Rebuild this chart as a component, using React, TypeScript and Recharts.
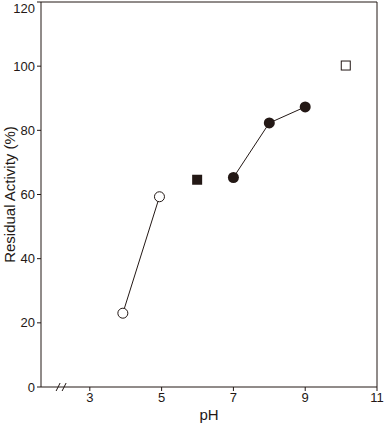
import { ComposedChart, Scatter, XAxis, YAxis, ReferenceDot, ReferenceLine } from "recharts";

const acidBuffer = [
  { ph: 3.92, activity: 23 },
  { ph: 4.94, activity: 59.3 },
];
const midBuffer = [{ ph: 5.99, activity: 64.6 }];
const neutralBuffer = [
  { ph: 7.0, activity: 65.3 },
  { ph: 8.0, activity: 82.3 },
  { ph: 9.0, activity: 87.3 },
];
const alkaliBuffer = [{ ph: 10.13, activity: 100.2 }];

const xTicks = [3, 5, 7, 9, 11];
const yTicks = [0, 20, 40, 60, 80, 100, 120];

const font = "'Liberation Sans', Arial, sans-serif";
const ink = "#231815";

const openCircle = (p: any) => <circle cx={p.cx} cy={p.cy} r={5} fill="#fff" stroke={ink} strokeWidth={1} />;
const fullCircle = (p: any) => <circle cx={p.cx} cy={p.cy} r={5.5} fill={ink} />;
const fullSquare = (p: any) => <rect x={p.cx - 5} y={p.cy - 5} width={10} height={10} fill={ink} />;
const openSquare = (p: any) => (
  <rect x={p.cx - 4.5} y={p.cy - 4.5} width={9} height={9} fill="#fff" stroke={ink} strokeWidth={1} />
);

const axisBreak = (p: any) => (
  <g stroke={ink} strokeWidth={1}>
    <line x1={p.cx - 5} y1={p.cy + 4} x2={p.cx - 1} y2={p.cy - 4} />
    <line x1={p.cx + 1} y1={p.cy + 4} x2={p.cx + 5} y2={p.cy - 4} />
  </g>
);

export default function App() {
  const tick = { fill: ink, fontSize: 13, fontFamily: font };
  return (
    <div style={{ width: 384, height: 426, background: "#fff" }}>
      <style>{"body{margin:0}"}</style>
      <ComposedChart width={384} height={426} margin={{ top: 2, right: 7, left: 0, bottom: 0 }}>
        <XAxis
          dataKey="ph"
          type="number"
          domain={[1.64, 11]}
          ticks={xTicks}
          allowDataOverflow
          tick={tick}
          tickLine={{ stroke: ink }}
          tickSize={4}
          axisLine={{ stroke: ink }}
          height={39}
          label={{ value: "pH", position: "insideBottom", offset: 6, fill: ink, fontSize: 15, fontFamily: font }}
        />
        <YAxis
          dataKey="activity"
          type="number"
          domain={[0, 120]}
          ticks={yTicks}
          tick={tick}
          tickLine={{ stroke: ink }}
          tickSize={4}
          axisLine={{ stroke: ink }}
          width={41}
          label={{
            value: "Residual Activity (%)",
            angle: -90,
            position: "insideLeft",
            offset: 10,
            style: { textAnchor: "middle" },
            fill: ink,
            fontSize: 15,
            fontFamily: font,
          }}
        />
        <ReferenceLine y={120} stroke={ink} strokeWidth={1} ifOverflow="visible" />
        <ReferenceLine x={11} stroke={ink} strokeWidth={1} ifOverflow="visible" />
        <Scatter data={acidBuffer} line={{ stroke: ink, strokeWidth: 1 }} shape={openCircle} isAnimationActive={false} />
        <Scatter data={midBuffer} shape={fullSquare} isAnimationActive={false} />
        <Scatter data={neutralBuffer} line={{ stroke: ink, strokeWidth: 1 }} shape={fullCircle} isAnimationActive={false} />
        <Scatter data={alkaliBuffer} shape={openSquare} isAnimationActive={false} />
        <ReferenceDot x={2.2} y={0} shape={axisBreak} ifOverflow="visible" />
      </ComposedChart>
    </div>
  );
}
